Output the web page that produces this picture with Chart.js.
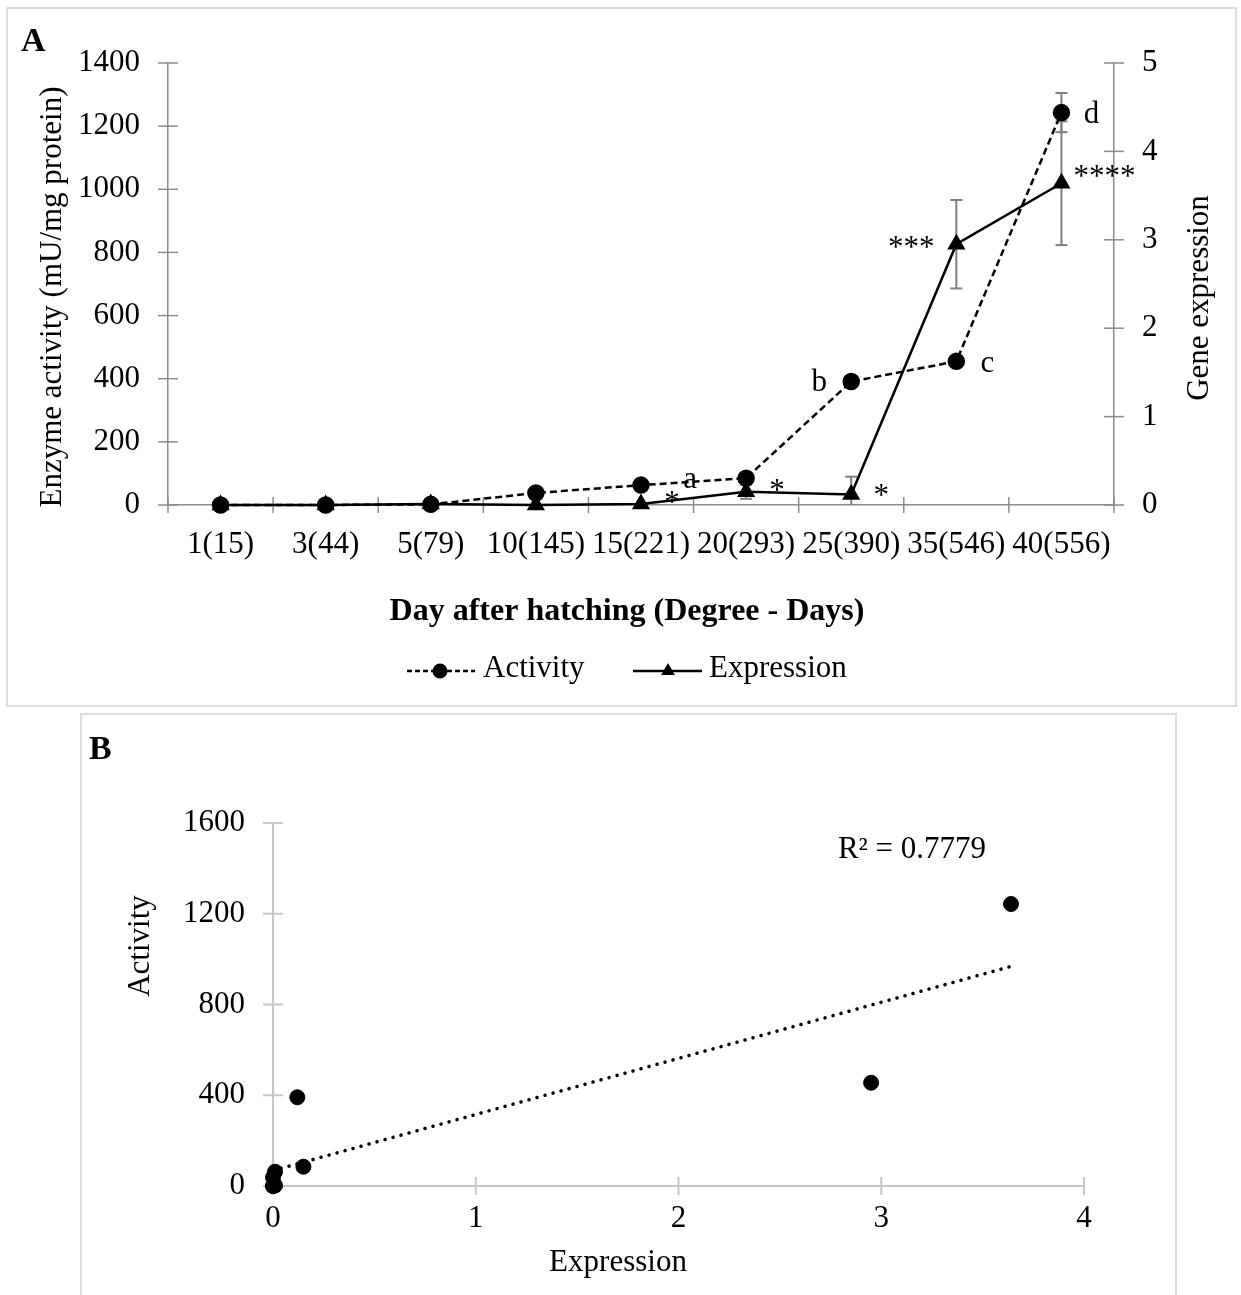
<!DOCTYPE html>
<html lang="en">
<head>
<meta charset="UTF-8">
<title>Enzyme activity and gene expression</title>
<script src="https://cdn.jsdelivr.net/npm/chart.js"></script>
<style>
  html, body { margin: 0; padding: 0; background: #fff; overflow: hidden; }
  body { width: 1241px; height: 1295px; position: relative; }
  .panel { position: absolute; box-sizing: border-box; border: 2px solid #dcdcdc; }
  #boxA { left: 6px; top: 7px; width: 1231px; height: 700px; }
  #boxB { left: 80px; top: 713px; width: 1097px; height: 620px; }
  canvas { position: absolute; left: 0; }
  #chartA { top: 0; }
  #chartB { top: 710px; }
</style>
</head>
<body>
<div class="panel" id="boxA"></div>
<div class="panel" id="boxB"></div>
<canvas id="chartA" width="1241" height="710"></canvas>
<canvas id="chartB" width="1241" height="585"></canvas>
<script>
// values
const days = ['1(15)', '3(44)', '5(79)', '10(145)', '15(221)', '20(293)', '25(390)', '35(546)', '40(556)'];
const activity = [0, 0, 2, 38, 63, 85, 391, 455, 1243];
const activityErr = [0, 0, 0, 0, 0, 8, 10, 15, 62];
const expression = [0, 0, 0.01, 0, 0.01, 0.15, 0.12, 2.95, 3.64];
const expressionErr = [0, 0, 0, 0, 0, 0.08, 0.2, 0.5, 0.7];
const activityLetters = ['', '', '', '', '', 'a', 'b', 'c', 'd'];
const expressionStars = ['', '', '', '', '*', '*', '*', '***', '****'];
const trendX = [0, 3.64];
const trendY = [68, 968];
const r2Text = 'R\u00b2 = 0.7779';

const serif = "'Times New Roman', 'Liberation Serif', serif";
Chart.defaults.font.family = serif;
Chart.defaults.font.size = 31;
Chart.defaults.color = '#000';

const grayA = '#8c8c8c';
const grayB = '#c6c6c6';
const plain = v => String(v);

// label offsets (px) from the point, text baseline
const letterOffsets = { 5: [-56, 10], 6: [-32, 9], 7: [31, 11], 8: [30, 10] };
const starOffsets = { 4: [31, 8], 5: [31, 8], 6: [30, 11], 7: [-45, 13], 8: [43, 3] };

function line(ctx, x1, y1, x2, y2) {
    ctx.beginPath();
    ctx.moveTo(x1, y1);
    ctx.lineTo(x2, y2);
    ctx.stroke();
}

function triangle(ctx, x, y, r) {
    ctx.beginPath();
    ctx.moveTo(x, y - r);
    ctx.lineTo(x + r * 0.866, y + r / 2);
    ctx.lineTo(x - r * 0.866, y + r / 2);
    ctx.closePath();
    ctx.fill();
}

function vText(ctx, text, x, y) {
    ctx.save();
    ctx.translate(x, y);
    ctx.rotate(-Math.PI / 2);
    ctx.textAlign = 'center';
    ctx.textBaseline = 'alphabetic';
    ctx.fillText(text, 0, 0);
    ctx.restore();
}

function yTicks(ctx, scale, axisX, half) {
    scale.ticks.forEach((t, i) => {
        const y = scale.getPixelForTick(i);
        line(ctx, axisX - half, y, axisX + half, y);
    });
}

// error bars stop at the axis minimum, like the original
function errorBars(ctx, xs, ys, vals, errs) {
    vals.forEach((v, i) => {
        if (!errs[i]) return;
        const x = xs.getPixelForValue(i);
        const top = ys.getPixelForValue(v + errs[i]);
        const low = v - errs[i];
        const bot = ys.getPixelForValue(Math.max(low, ys.min));
        line(ctx, x, top, x, bot);
        line(ctx, x - 6, top, x + 6, top);
        if (low >= ys.min) line(ctx, x - 6, bot, x + 6, bot);
    });
}

const panelA = {
    id: 'panelA',
    beforeDatasetsDraw(chart) {
        const ctx = chart.ctx;
        const { x, y, y1 } = chart.scales;
        ctx.save();
        ctx.strokeStyle = grayA;
        ctx.lineWidth = 1.5;
        yTicks(ctx, y, chart.chartArea.left, 10);
        yTicks(ctx, y1, chart.chartArea.right, 10);
        const bottom = chart.chartArea.bottom;
        for (let i = 0; i <= days.length; i++) {
            const px = x.getPixelForValue(i - 0.5);
            line(ctx, px, bottom - 8, px, bottom + 8);
        }
        ctx.strokeStyle = '#7f7f7f';
        ctx.lineWidth = 2;
        errorBars(ctx, x, y, activity, activityErr);
        errorBars(ctx, x, y1, expression, expressionErr);
        ctx.restore();
    },
    afterDatasetsDraw(chart) {
        const ctx = chart.ctx;
        const { x, y, y1 } = chart.scales;
        ctx.save();
        ctx.fillStyle = '#000';
        ctx.font = '31px ' + serif;
        ctx.textAlign = 'center';
        ctx.textBaseline = 'alphabetic';
        activityLetters.forEach((t, i) => {
            if (!t) return;
            const o = letterOffsets[i];
            ctx.fillText(t, x.getPixelForValue(i) + o[0], y.getPixelForValue(activity[i]) + o[1]);
        });
        expressionStars.forEach((t, i) => {
            if (!t) return;
            const o = starOffsets[i];
            ctx.fillText(t, x.getPixelForValue(i) + o[0], y1.getPixelForValue(expression[i]) + o[1]);
        });
        ctx.restore();
    },
    afterDraw(chart) {
        const ctx = chart.ctx;
        ctx.save();
        ctx.fillStyle = '#000';
        ctx.strokeStyle = '#000';
        ctx.font = 'bold 34px ' + serif;
        ctx.textAlign = 'left';
        ctx.fillText('A', 21, 51);

        ctx.font = '31px ' + serif;
        vText(ctx, 'Enzyme activity (mU/mg protein)', 61, 297);
        vText(ctx, 'Gene expression', 1208, 298);

        ctx.font = 'bold 32px ' + serif;
        ctx.textAlign = 'center';
        ctx.fillText('Day after hatching (Degree - Days)', 627, 620);

        // legend
        const ly = 671;
        ctx.lineWidth = 2.5;
        ctx.setLineDash([5, 3]);
        line(ctx, 407, ly, 475, ly);
        ctx.setLineDash([]);
        ctx.beginPath();
        ctx.arc(440, ly, 7.5, 0, Math.PI * 2);
        ctx.fill();
        line(ctx, 633, ly, 702, ly);
        triangle(ctx, 668, ly, 8);
        ctx.font = '31px ' + serif;
        ctx.textAlign = 'left';
        ctx.fillText('Activity', 483, 677);
        ctx.fillText('Expression', 709, 677);
        ctx.restore();
    }
};

new Chart(document.getElementById('chartA'), {
    type: 'line',
    data: {
        labels: days,
        datasets: [{
            label: 'Expression',
            data: expression,
            yAxisID: 'y1',
            order: 0,
            borderColor: '#000',
            borderWidth: 2.5,
            pointStyle: 'triangle',
            pointRadius: 8,
            pointBackgroundColor: '#000',
            pointBorderColor: '#000',
            tension: 0,
            clip: false
        }, {
            label: 'Activity',
            data: activity,
            yAxisID: 'y',
            order: 1,
            borderColor: '#000',
            borderWidth: 2.5,
            borderDash: [7, 4],
            pointStyle: 'circle',
            pointRadius: 7.5,
            pointBackgroundColor: '#000',
            pointBorderColor: '#000',
            tension: 0,
            clip: false
        }]
    },
    options: {
        responsive: false,
        animation: false,
        layout: { padding: { top: 63, left: 0, right: 0, bottom: 0 } },
        plugins: { legend: { display: false }, tooltip: { enabled: false } },
        scales: {
            x: {
                type: 'category',
                offset: true,
                grid: { display: false, drawTicks: false },
                border: { color: grayA, width: 1.5 },
                ticks: { padding: 21, maxRotation: 0, autoSkip: false },
                afterFit: s => { s.height = 205; }
            },
            y: {
                position: 'left',
                min: 0,
                max: 1400,
                grid: { display: false, drawTicks: false },
                border: { color: grayA, width: 1.5 },
                ticks: { stepSize: 200, padding: 28, callback: plain },
                afterFit: s => { s.width = 168; }
            },
            y1: {
                position: 'right',
                min: 0,
                max: 5,
                grid: { display: false, drawTicks: false },
                border: { color: grayA, width: 1.5 },
                ticks: { stepSize: 1, padding: 28, callback: plain },
                afterFit: s => { s.width = 127; }
            }
        }
    },
    plugins: [panelA]
});

const panelB = {
    id: 'panelB',
    beforeDatasetsDraw(chart) {
        const ctx = chart.ctx;
        const { x, y } = chart.scales;
        ctx.save();
        ctx.strokeStyle = grayB;
        ctx.lineWidth = 2;
        yTicks(ctx, y, chart.chartArea.left, 10);
        const bottom = chart.chartArea.bottom;
        x.ticks.forEach((t, i) => {
            const px = x.getPixelForTick(i);
            line(ctx, px, bottom - 9, px, bottom + 9);
        });
        ctx.restore();
    },
    afterDraw(chart) {
        const ctx = chart.ctx;
        ctx.save();
        ctx.fillStyle = '#000';
        ctx.font = 'bold 34px ' + serif;
        ctx.textAlign = 'left';
        ctx.fillText('B', 89, 49);
        ctx.font = '31px ' + serif;
        vText(ctx, 'Activity', 149, 236);
        ctx.textAlign = 'center';
        ctx.fillText('Expression', 618, 561);
        ctx.fillText(r2Text, 912, 148);
        ctx.restore();
    }
};

new Chart(document.getElementById('chartB'), {
    type: 'scatter',
    data: {
        datasets: [{
            label: 'Activity',
            data: expression.map((e, i) => ({ x: e, y: activity[i] })),
            order: 0,
            pointRadius: 7.5,
            pointBackgroundColor: '#000',
            pointBorderColor: '#000',
            clip: false
        }, {
            label: 'Linear trend',
            data: trendX.map((v, i) => ({ x: v, y: trendY[i] })),
            order: 1,
            showLine: true,
            borderColor: '#000',
            borderWidth: 3.5,
            borderDash: [0.1, 8.2],
            borderCapStyle: 'round',
            pointRadius: 0,
            clip: false
        }]
    },
    options: {
        responsive: false,
        animation: false,
        layout: { padding: { top: 113, left: 0, right: 157, bottom: 0 } },
        plugins: { legend: { display: false }, tooltip: { enabled: false } },
        scales: {
            x: {
                type: 'linear',
                min: 0,
                max: 4,
                grid: { display: false, drawTicks: false },
                border: { color: grayB, width: 2 },
                ticks: { stepSize: 1, padding: 14, callback: plain },
                afterFit: s => { s.height = 109; }
            },
            y: {
                min: 0,
                max: 1600,
                grid: { display: false, drawTicks: false },
                border: { color: grayB, width: 2 },
                ticks: { stepSize: 400, padding: 28, callback: plain },
                afterFit: s => { s.width = 273; }
            }
        }
    },
    plugins: [panelB]
});
</script>
</body>
</html>
